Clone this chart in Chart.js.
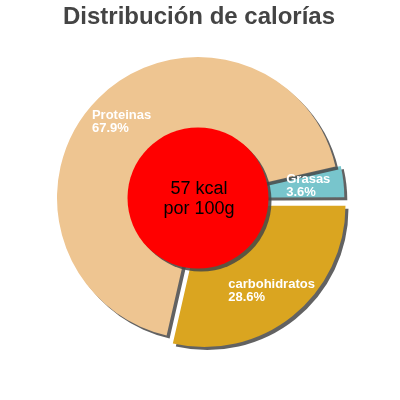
<!DOCTYPE html>
<html>
<head>
<meta charset="utf-8">
<script src="https://cdn.jsdelivr.net/npm/chart.js@4/dist/chart.umd.min.js"></script>
<style>
  html, body { margin: 0; padding: 0; background: #fff; }
  #wrap { width: 400px; height: 400px; }
</style>
</head>
<body>
<div id="wrap"><canvas id="calChart" width="400" height="400"></canvas></div>
<script>
// Calorie split, per 100g
var sliceNames = ['Grasas', 'carbohidratos', 'Proteinas'];
var slicePercents = [3.6, 28.6, 67.9];
var kcalPer100g = 57;
var chartTitle = 'Distribución de calorías';

var sliceColors = ['#78c5cc', '#daa520', '#eec591'];
var sliceOffsets = [12, 40, 0]; // chart.js divides arc offset by 4

var FONT = '"Liberation Sans", Arial, sans-serif';

// shadow behind slices
var shadowPlugin = {
    id: 'sliceShadow',
    beforeDatasetsDraw: function (chart) {
        var c = chart.ctx;
        c.save();
        c.shadowColor = 'rgba(70,70,70,0.85)';
        c.shadowOffsetX = 3;
        c.shadowOffsetY = 3;
        c.shadowBlur = 0;
    },
    afterDatasetsDraw: function (chart) {
        chart.ctx.restore();
    }
};

// title, center disc, slice labels
var decorPlugin = {
    id: 'decor',
    afterDraw: function (chart) {
        var c = chart.ctx;
        var arcs = chart.getDatasetMeta(0).data;
        var cx = arcs[0].x, cy = arcs[0].y, outer = arcs[0].outerRadius;

        c.save();
        c.fillStyle = '#444';
        c.font = 'bold 24px ' + FONT;
        c.textAlign = 'center';
        c.textBaseline = 'middle';
        c.fillText(chartTitle, 199, 17);
        c.restore();

        // labels
        c.save();
        c.font = 'bold 13px ' + FONT;
        c.fillStyle = '#fff';
        c.textBaseline = 'middle';
        c.textAlign = 'left';
        arcs.forEach(function (arc, i) {
            var mid = (arc.startAngle + arc.endAngle) / 2;
            var shift = sliceOffsets[i] / 4;
            var r = outer - 33;
            var x = arc.x + Math.cos(mid) * (r + shift);
            var y = arc.y + Math.sin(mid) * (r + shift);
            var l1 = sliceNames[i];
            var l2 = slicePercents[i].toFixed(1) + '%';
            var w = Math.max(c.measureText(l1).width, c.measureText(l2).width);
            c.fillText(l1, x - w / 2, y - 6);
            c.fillText(l2, x - w / 2, y + 7);
        });
        c.restore();

        // center disc
        c.save();
        c.shadowColor = 'rgba(70,70,70,0.85)';
        c.shadowOffsetX = 3;
        c.shadowOffsetY = 3;
        c.beginPath();
        c.arc(cx, cy, outer * 0.5, 0, Math.PI * 2);
        c.fillStyle = '#ff0000';
        c.fill();
        c.restore();

        c.save();
        c.fillStyle = '#000';
        c.font = '18px ' + FONT;
        c.textAlign = 'center';
        c.textBaseline = 'middle';
        c.fillText(kcalPer100g + ' kcal', cx + 1, cy - 9);
        c.fillText('por 100g', cx + 1, cy + 11);
        c.restore();
    }
};

var ctx = document.getElementById('calChart');
new Chart(ctx.getContext('2d'), {
    type: 'pie',
    data: {
        labels: sliceNames,
        datasets: [{
            data: slicePercents,
            backgroundColor: sliceColors,
            offset: sliceOffsets,
            hoverOffset: 0,
            borderWidth: 0
        }]
    },
    options: {
        responsive: false,
        animation: false,
        devicePixelRatio: 1,
        rotation: 90 - 360 * slicePercents[0] / 100.1,
        radius: 141,
        layout: { padding: { left: 0, top: 0, right: 4, bottom: 4 } },
        plugins: {
            legend: { display: false },
            tooltip: { enabled: false },
            title: { display: false }
        },
        events: []
    },
    plugins: [shadowPlugin, decorPlugin]
});
</script>
</body>
</html>
